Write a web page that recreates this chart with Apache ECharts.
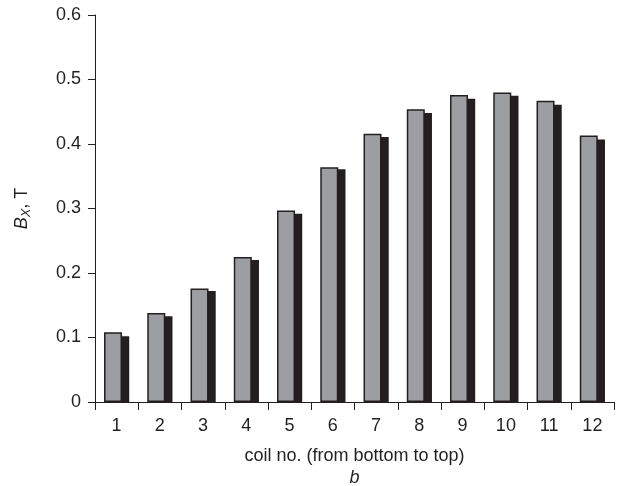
<!DOCTYPE html>
<html>
<head>
<meta charset="utf-8">
<script src="https://cdn.jsdelivr.net/npm/echarts@6/dist/echarts.min.js"></script>
<style>
  html, body { margin: 0; padding: 0; background: #fff; }
  #chart { width: 619px; height: 486px; }
</style>
</head>
<body>
<div id="chart"></div>
<script>
// coil numbers
const coils = ["1", "2", "3", "4", "5", "6", "7", "8", "9", "10", "11", "12"];
// front (grey) bars
const greyValues = [0.108, 0.138, 0.176, 0.225, 0.297, 0.364, 0.416, 0.454, 0.476, 0.480, 0.467, 0.413];
// back (black) bars
const blackValues = [0.102, 0.133, 0.172, 0.220, 0.292, 0.361, 0.411, 0.448, 0.470, 0.475, 0.461, 0.407];

const ink = "#231f20";
const chart = echarts.init(document.getElementById("chart"));

chart.setOption({
  animation: false,
  textStyle: { fontFamily: "Liberation Sans, Arial, sans-serif" },
  grid: { left: 95, right: 5, top: 15, bottom: 84, containLabel: false, outerBoundsMode: "none" },
  xAxis: {
    type: "category",
    data: coils,
    boundaryGap: true,
    axisLine: { lineStyle: { color: ink, width: 1 } },
    axisTick: { show: true, length: 8, lineStyle: { color: ink } },
    axisLabel: { color: ink, fontSize: 18, margin: 15 },
    name: "coil no. (from bottom to top)\n{b|b}",
    nameLocation: "middle",
    nameGap: 44,
    nameTextStyle: {
      color: ink,
      fontSize: 18,
      lineHeight: 21,
      rich: { b: { fontStyle: "italic", fontSize: 18, lineHeight: 21, color: ink } }
    }
  },
  yAxis: {
    type: "value",
    min: 0,
    max: 0.6,
    interval: 0.1,
    splitLine: { show: false },
    axisLine: { show: true, lineStyle: { color: ink, width: 1 } },
    axisTick: { show: true, length: 7, lineStyle: { color: ink } },
    axisLabel: { color: ink, fontSize: 18, margin: 14 },
    name: "{i|B}{s|X}{n|, T}",
    nameLocation: "middle",
    nameRotate: 90,
    nameGap: 62,
    nameTextStyle: {
      color: ink,
      rich: {
        i: { fontStyle: "italic", fontSize: 18, color: ink },
        s: { fontStyle: "italic", fontSize: 13, color: ink, padding: [9, 0, 0, 0] },
        n: { fontSize: 18, color: ink }
      }
    }
  },
  series: [
    {
      type: "bar",
      data: greyValues,
      barWidth: 18,
      barGap: "-60%",
      z: 3,
      itemStyle: { color: "#9d9ea2", borderColor: ink, borderWidth: 1.5 }
    },
    {
      type: "bar",
      data: blackValues,
      barWidth: 18,
      z: 2,
      itemStyle: { color: ink }
    }
  ]
});
</script>
</body>
</html>
